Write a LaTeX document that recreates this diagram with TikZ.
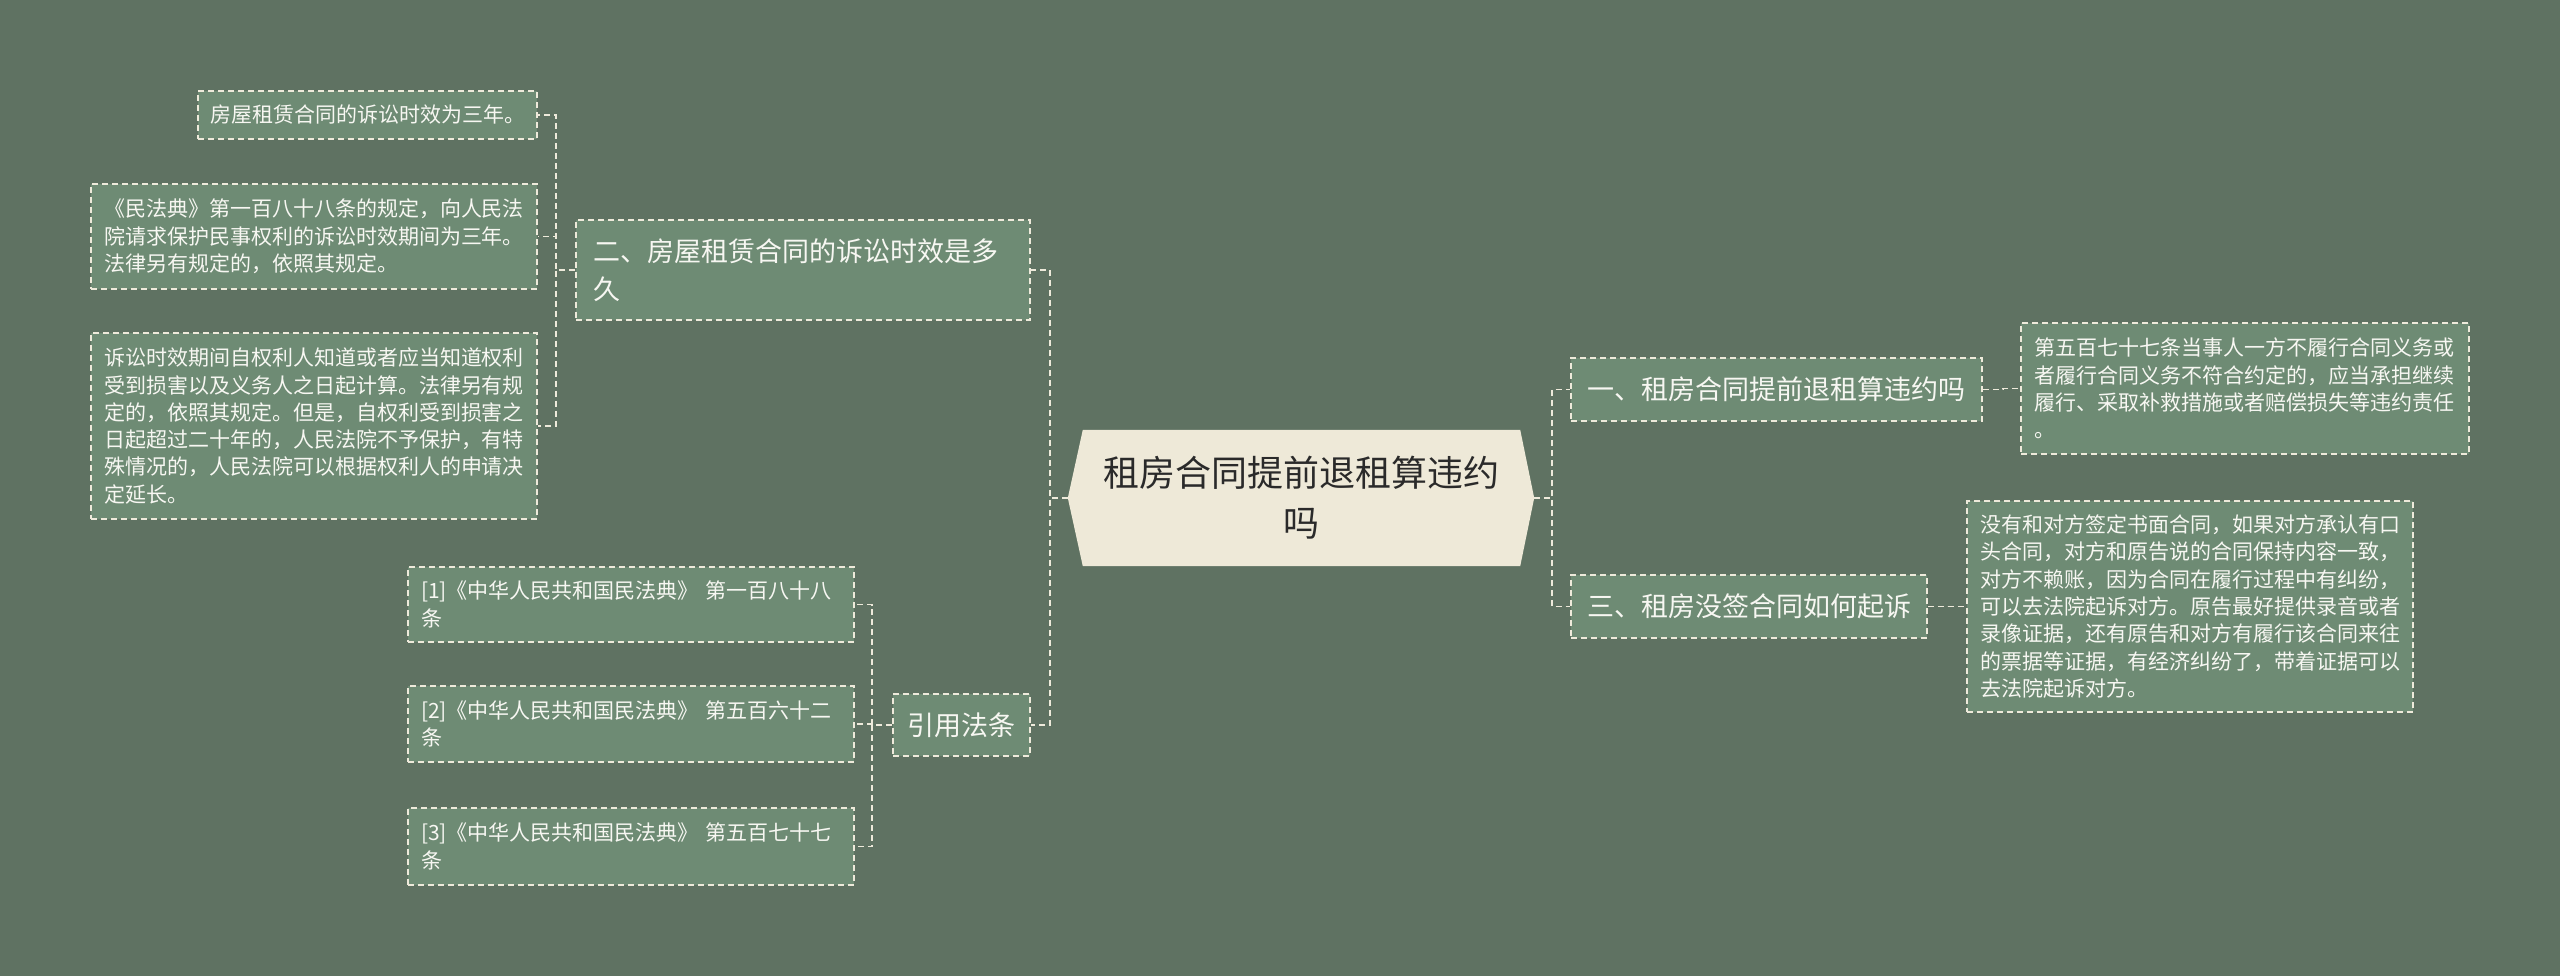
\documentclass[tikz,border=0pt]{standalone}
\usepackage{fontspec}
\setmainfont{Noto Sans CJK SC}
\usetikzlibrary{backgrounds,calc}
\definecolor{bg}{HTML}{5F7262}
\definecolor{boxfill}{HTML}{6E8B74}
\definecolor{dashc}{HTML}{EEEADB}
\definecolor{ctrfill}{HTML}{EEE9D8}
\definecolor{ctrtext}{HTML}{2A2A2A}
\definecolor{lighttext}{HTML}{F7F7F2}
\begin{document}
\begin{tikzpicture}[x=1pt,y=-1pt,
  dashline/.style={draw=dashc, line width=1.6pt, dash pattern=on 6pt off 4pt},
  topic/.style={dashline, fill=boxfill, text=lighttext, font=\fontsize{27}{38}\selectfont, inner sep=0pt, align=left},
  leaf/.style={dashline, fill=boxfill, text=lighttext, font=\fontsize{21}{27.3}\selectfont, inner sep=0pt, align=left},
  conn/.style={dashline}]
\begin{scope}[on background layer]
\fill[bg] (0,0) rectangle (2560,976);
\end{scope}
\useasboundingbox (0,0) rectangle (2560,976);

% centre
\node[inner sep=0pt, minimum width=466pt, minimum height=136pt, text=ctrtext, align=center,
  font=\fontsize{36}{50}\selectfont] (ctr) at (1301,498) {租房合同提前退租算违约\\吗};
\begin{scope}[on background layer]
\fill[ctrfill] ($(ctr.north west)+(15,0)$) -- ($(ctr.north east)+(-14,0)$) -- (ctr.east)
  -- ($(ctr.south east)+(-14,0)$) -- ($(ctr.south west)+(15,0)$) -- (ctr.west) -- cycle;
\end{scope}

% right side
\node[topic, minimum width=411pt, minimum height=63pt] (n1) at (1776.5,389.5) {一、租房合同提前退租算违约吗};
\node[topic, minimum width=356pt, minimum height=63pt] (n3) at (1749,606.5) {三、租房没签合同如何起诉};
\node[leaf, minimum width=448pt, minimum height=131pt, text width=422pt] (l1) at (2245,388.5)
  {第五百七十七条当事人一方不履行合同义务或\\者履行合同义务不符合约定的，应当承担继续\\履行、采取补救措施或者赔偿损失等违约责任\\。};
\node[leaf, minimum width=446pt, minimum height=211pt, text width=420pt] (l3) at (2190,606.5)
  {没有和对方签定书面合同，如果对方承认有口\\头合同，对方和原告说的合同保持内容一致，\\对方不赖账，因为合同在履行过程中有纠纷，\\可以去法院起诉对方。原告最好提供录音或者\\录像证据，还有原告和对方有履行该合同来往\\的票据等证据，有经济纠纷了，带着证据可以\\去法院起诉对方。};

% left side
\node[topic, minimum width=454pt, minimum height=100pt, text width=420pt] (n2) at (803,270)
  {二、房屋租赁合同的诉讼时效是多\\久};
\node[topic, minimum width=137pt, minimum height=62pt] (n4) at (961.5,725) {引用法条};

\node[leaf, minimum width=339pt, minimum height=48pt] (a) at (367.5,115) {房屋租赁合同的诉讼时效为三年。};
\node[leaf, minimum width=446pt, minimum height=105pt, text width=420pt] (b) at (314,236.5)
  {《民法典》第一百八十八条的规定，向人民法\\院请求保护民事权利的诉讼时效期间为三年。\\法律另有规定的，依照其规定。};
\node[leaf, minimum width=446pt, minimum height=186pt, text width=420pt] (c) at (314,426)
  {诉讼时效期间自权利人知道或者应当知道权利\\受到损害以及义务人之日起计算。法律另有规\\定的，依照其规定。但是，自权利受到损害之\\日起超过二十年的，人民法院不予保护，有特\\殊情况的，人民法院可以根据权利人的申请决\\定延长。};

\node[leaf, minimum width=446pt, minimum height=75pt, text width=420pt] (r1) at (631,604.5)
  {[1]《中华人民共和国民法典》 第一百八十八\\条};
\node[leaf, minimum width=446pt, minimum height=76pt, text width=420pt] (r2) at (631,724)
  {[2]《中华人民共和国民法典》 第五百六十二\\条};
\node[leaf, minimum width=446pt, minimum height=77pt, text width=420pt] (r3) at (631,846.5)
  {[3]《中华人民共和国民法典》 第五百七十七\\条};

% connectors
\draw[conn] (ctr.east) -- ++(18,0) |- (n1.west);
\draw[conn] (ctr.east) -- ++(18,0) |- (n3.west);
\draw[conn] (ctr.west) -- ++(-18,0) |- (n2.east);
\draw[conn] (ctr.west) -- ++(-18,0) |- (n4.east);
\draw[conn] (n1.east) -- ++(20,0) |- (l1.west);
\draw[conn] (n3.east) -- ++(20,0) |- (l3.west);
\draw[conn] (n2.west) -- ++(-19,0) |- (a.east);
\draw[conn] (n2.west) -- ++(-19,0) |- (b.east);
\draw[conn] (n2.west) -- ++(-19,0) |- (c.east);
\draw[conn] (n4.west) -- ++(-20,0) |- (r1.east);
\draw[conn] (n4.west) -- ++(-20,0) |- (r2.east);
\draw[conn] (n4.west) -- ++(-20,0) |- (r3.east);
\end{tikzpicture}
\end{document}
